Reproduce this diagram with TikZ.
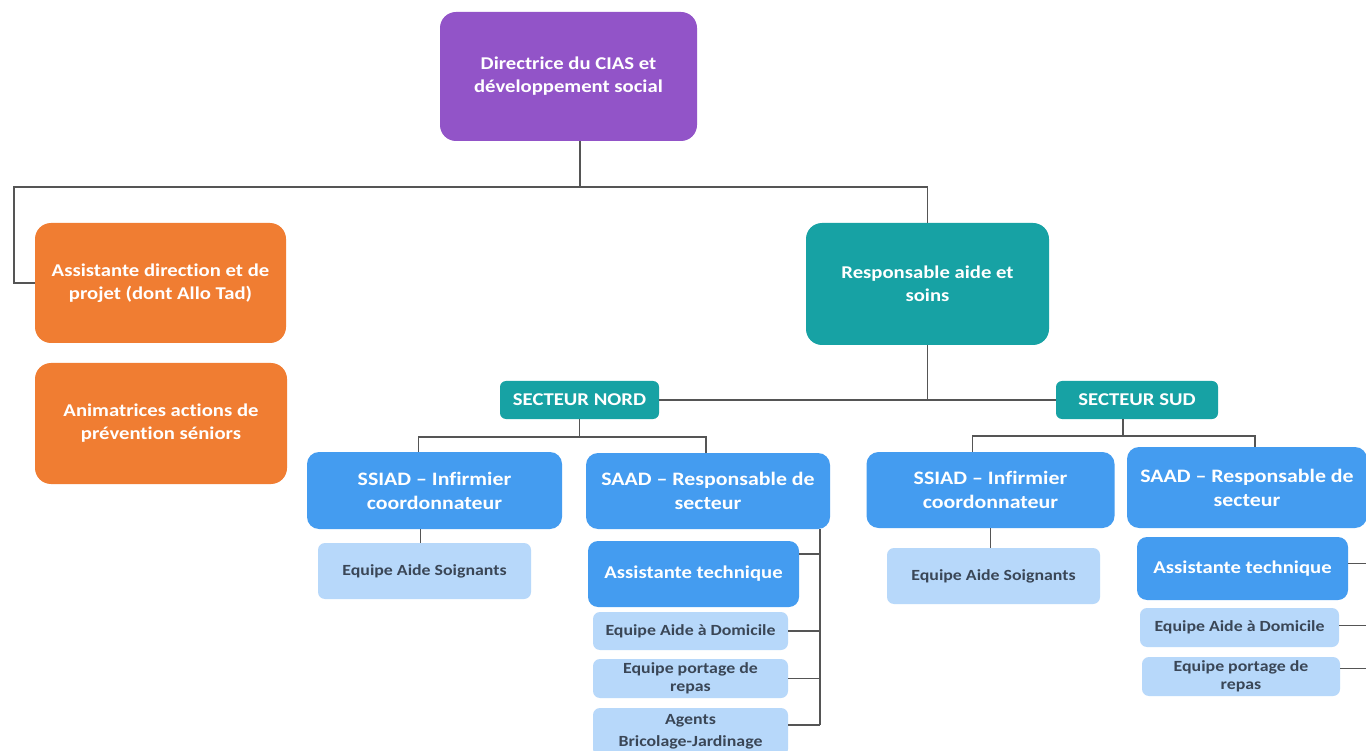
\documentclass[tikz,border=0pt]{standalone}
\usepackage{fontspec}
\setmainfont{Carlito}[FakeStretch=1.15,Ligatures=NoCommon]
\definecolor{cpurple}{HTML}{9254C8}
\definecolor{corange}{HTML}{F07D32}
\definecolor{cteal}{HTML}{17A2A4}
\definecolor{cblue}{HTML}{449CF0}
\definecolor{clight}{HTML}{B7D8FA}
\definecolor{cline}{HTML}{555555}
\definecolor{ctext}{HTML}{3A4656}
\begin{document}
\begin{tikzpicture}[x=1pt,y=-1pt,
  box/.style={inner sep=0pt, align=center, font=\bfseries, text=white, rounded corners=16pt},
  big/.style={box, minimum width=250pt, minimum height=122pt, font=\fontsize{18}{23}\selectfont\bfseries},
  sect/.style={box, fill=cteal, minimum width=160pt, minimum height=38pt, rounded corners=6pt, font=\fontsize{18}{20}\selectfont\bfseries},
  mid/.style={box, fill=cblue, minimum height=77pt, rounded corners=12pt, font=\fontsize{19}{24}\selectfont\bfseries},
  tech/.style={box, fill=cblue, minimum width=211pt, rounded corners=10pt, font=\fontsize{18}{20}\selectfont\bfseries},
  leaf/.style={box, fill=clight, text=ctext, rounded corners=7pt, font=\fontsize{15.5}{18}\selectfont\bfseries},
  conn/.style={draw=cline, line width=1.4pt}]
\useasboundingbox (0,0) rectangle (1366,751);
\fill[white] (0,0) rectangle (1366,751);
% top
\node[big, fill=cpurple, minimum width=257pt, minimum height=129pt] (dir) at (568.5,76.5) {Directrice du CIAS et\\développement social};
\node[big, fill=corange, minimum width=251pt, minimum height=120pt] (asst) at (160.5,283) {Assistante direction et de\\projet (dont Allo Tad)};
\node[big, fill=corange, minimum width=252pt, minimum height=121pt] (anim) at (161,423.5) {Animatrices actions de\\prévention séniors};
\node[big, fill=cteal, minimum width=243pt, minimum height=122pt] (resp) at (927.5,284) {Responsable aide et\\soins};
% secteurs
\node[sect, minimum width=159pt] (nord) at (579.5,400) {SECTEUR NORD};
\node[sect, minimum width=162pt] (sud) at (1137,400) {SECTEUR SUD};
% nord
\node[mid, minimum width=255pt] (ssiadN) at (434.5,490.5) {SSIAD – Infirmier\\coordonnateur};
\node[mid, minimum width=244pt, minimum height=76pt] (saadN) at (708,491) {SAAD – Responsable de\\secteur};
\node[leaf, minimum width=213pt, minimum height=56pt] (easN) at (424.5,571) {Equipe Aide Soignants};
\node[tech, minimum height=66pt] (atN) at (693.5,574) {Assistante technique};
\node[leaf, minimum width=195pt, minimum height=38pt] (eadN) at (690.5,631) {Equipe Aide à Domicile};
\node[leaf, minimum width=195pt, minimum height=39pt] (eprN) at (690.5,678.5) {Equipe portage de\\repas};
\node[leaf, minimum width=195pt, minimum height=48pt, font=\fontsize{15.5}{22}\selectfont\bfseries] (agN) at (690.5,732) {Agents\\Bricolage-Jardinage};
% sud
\node[mid, minimum width=248pt, minimum height=76pt] (ssiadS) at (990.5,490) {SSIAD – Infirmier\\coordonnateur};
\node[mid, minimum width=240pt, minimum height=81pt] (saadS) at (1247,487.5) {SAAD – Responsable de\\secteur};
\node[leaf, minimum width=213pt, minimum height=56pt] (easS) at (993.5,576) {Equipe Aide Soignants};
\node[tech, minimum height=63pt] (atS) at (1242.5,568.5) {Assistante technique};
\node[leaf, minimum width=199pt, minimum height=39pt] (eadS) at (1239.5,627.5) {Equipe Aide à Domicile};
\node[leaf, minimum width=198pt, minimum height=39pt] (eprS) at (1241,676.5) {Equipe portage de\\repas};
% connectors
\coordinate (j1) at (580,187);
\draw[conn] (dir.south -| j1) -- (j1);
\draw[conn] (asst.west) -- ++(-21,0) |- (j1) -| (resp.north);
\draw[conn] (resp.south) -- (resp.south |- nord.east);
\draw[conn] (nord.east) -- (sud.west);
% nord tree
\coordinate (jn) at (579.5,437);
\draw[conn] (nord.south) -- (jn);
\draw[conn] ([xshift=-16pt]ssiadN.north) |- (jn) -| ([xshift=-2pt]saadN.north);
\draw[conn] ([xshift=-14pt]ssiadN.south) -- ([xshift=-14pt]ssiadN.south |- easN.north);
\coordinate (vn) at (820,529);
\path ([yshift=20pt]atN.east) coordinate (atNp);
\path ([yshift=7pt]agN.east) coordinate (agNp);
\draw[conn] (vn) -- (vn |- agNp);
\draw[conn] (atNp) -- (vn |- atNp);
\draw[conn] (eadN.east) -- (vn |- eadN.east);
\draw[conn] (eprN.east) -- (vn |- eprN.east);
\draw[conn] (agNp) -- (vn |- agNp);
% sud tree
\coordinate (js) at (1123,436);
\draw[conn] ([xshift=-14pt]sud.south) -- (js);
\draw[conn] ([xshift=-18pt]ssiadS.north) |- (js) -| ([xshift=8pt]saadS.north);
\draw[conn] (ssiadS.south) -- (ssiadS.south |- easS.north);
\coordinate (vs) at (1374,528);
\path ([yshift=5pt]atS.east) coordinate (atSp);
\path ([yshift=2pt]eadS.east) coordinate (eadSp);
\path ([yshift=8pt]eprS.east) coordinate (eprSp);
\draw[conn] (vs) -- (vs |- eprSp);
\draw[conn] (atSp) -- (vs |- atSp);
\draw[conn] (eadSp) -- (vs |- eadSp);
\draw[conn] (eprSp) -- (vs |- eprSp);
\end{tikzpicture}
\end{document}
